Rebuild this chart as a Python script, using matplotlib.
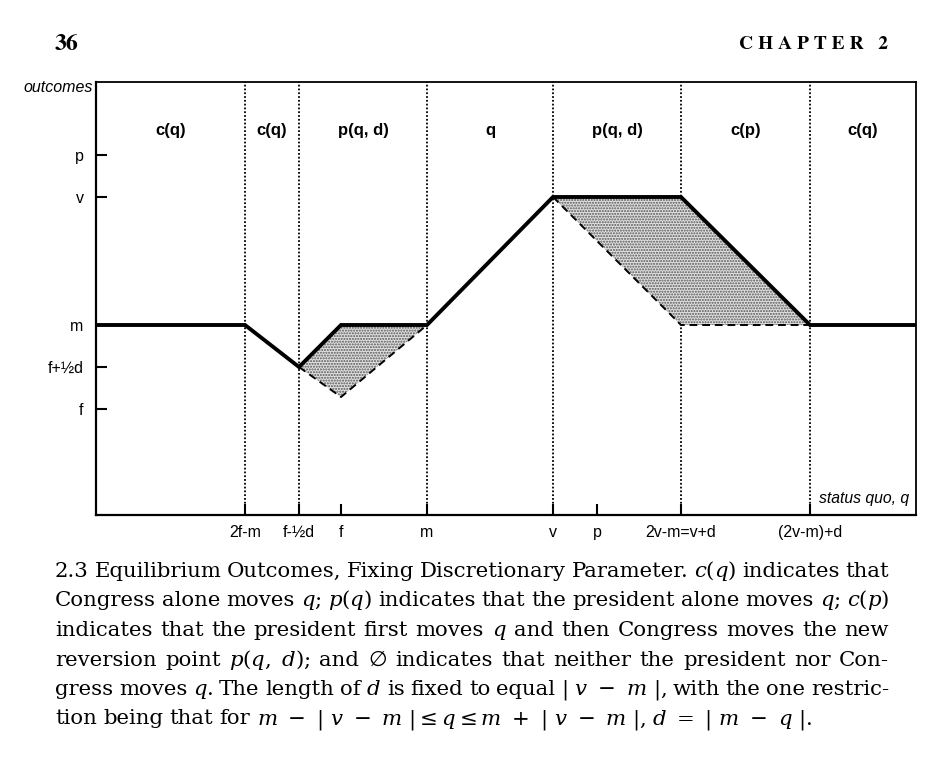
"""Equilibrium outcomes figure (fixed discretionary parameter) with its book-page caption."""

import re

import matplotlib
matplotlib.use("Agg")
import matplotlib.pyplot as plt

plt.rcParams["font.family"] = ["Liberation Sans", "DejaVu Sans"]
plt.rcParams["mathtext.fontset"] = "dejavuserif"
plt.rcParams["hatch.linewidth"] = 1.0
plt.rcParams["hatch.color"] = "#555555"

# status quo positions (x) and outcome levels (y), schematic units
X_LABELS = ["2f-m", "f-½d", "f", "m", "v", "p", "2v-m=v+d", "(2v-m)+d"]
X_TICKS = [14.9, 20.3, 24.5, 33.1, 45.7, 50.1, 58.5, 71.4]
X_MAX = 82.0
DIVIDERS = [14.9, 20.3, 33.1, 45.7, 58.5, 71.4]

Y_LABELS = ["p", "v", "m", "f+½d", "f"]
Y_TICKS = [36.0, 31.8, 19.0, 14.8, 10.6]
Y_MAX = 43.3

REGION_LABELS = ["c(q)", "c(q)", "p(q, d)", "q", "p(q, d)", "c(p)", "c(q)"]
REGION_Y = 38.5

# equilibrium outcome as a function of the status quo
OUT_X = [0.0, 14.9, 20.3, 24.5, 33.1, 45.7, 58.5, 71.4, 82.0]
OUT_Y = [19.0, 19.0, 14.8, 19.0, 19.0, 31.8, 31.8, 19.0, 19.0]

# shaded ranges of possible outcomes (solid upper edge, dashed lower edge)
LEFT_UPPER_X = [20.3, 24.5, 33.1]
LEFT_UPPER_Y = [14.8, 19.0, 19.0]
LEFT_LOWER_X = [20.3, 24.5, 33.1]
LEFT_LOWER_Y = [14.8, 11.8, 19.0]

RIGHT_UPPER_X = [45.7, 58.5, 71.4]
RIGHT_UPPER_Y = [31.8, 31.8, 19.0]
RIGHT_LOWER_X = [45.7, 58.5, 71.4]
RIGHT_LOWER_Y = [31.8, 19.0, 19.0]

CAPTION = [
    r"2.3 Equilibrium Outcomes, Fixing Discretionary Parameter. $c(q)$ indicates that",
    r"Congress alone moves $q$; $p(q)$ indicates that the president alone moves $q$; $c(p)$",
    r"indicates that the president first moves $q$ and then Congress moves the new",
    r"reversion point $p(q,\ d)$; and ∅ indicates that neither the president nor Con-",
    r"gress moves $q$. The length of $d$ is fixed to equal $|\ v\ -\ m\ |$, with the one restric-",
    r"tion being that for $m\ -\ |\ v\ -\ m\ |\leq q\leq m\ +\ |\ v\ -\ m\ |$, $d\ =\ |\ m\ -\ q\ |$.",
]
CAPTION_BASELINES = [577, 606.5, 636, 665.5, 695, 724.5]
CAPTION_FAMILY = ["DejaVu Serif", "DejaVu Sans", "STIXGeneral"]

W_PX, H_PX = 935, 761


def draw_caption(fig, lines, x0, x1, baselines, size):
    """Place each word so that every line but the last is justified."""
    renderer = fig.canvas.get_renderer()
    for i, (line, yb) in enumerate(zip(lines, baselines)):
        words = re.findall(r"(?:\$[^$]*\$|\S)+", line)
        texts = [fig.text(0, 1 - yb / H_PX, w, fontsize=size, family=CAPTION_FAMILY,
                          va="baseline", ha="left") for w in words]
        widths = [t.get_window_extent(renderer).width for t in texts]
        if i == len(lines) - 1:
            gap = size * 100 / 72 * 0.3
        else:
            gap = (x1 - x0 - sum(widths)) / (len(words) - 1)
        x = x0
        for t, w in zip(texts, widths):
            t.set_x(x / W_PX)
            x += w + gap


fig = plt.figure(figsize=(W_PX / 100, H_PX / 100), dpi=100)
ax = fig.add_axes([96 / W_PX, 1 - 515 / H_PX, (916 - 96) / W_PX, (515 - 82) / H_PX])
ax.set_xlim(0, X_MAX)
ax.set_ylim(0, Y_MAX)

for x in DIVIDERS:
    ax.axvline(x, color="black", lw=1.3, ls=(0, (1, 1.1)), zorder=1)

for ux, uy, lx, ly in [(LEFT_UPPER_X, LEFT_UPPER_Y, LEFT_LOWER_X, LEFT_LOWER_Y),
                       (RIGHT_UPPER_X, RIGHT_UPPER_Y, RIGHT_LOWER_X, RIGHT_LOWER_Y)]:
    ax.fill(ux + lx[::-1], uy + ly[::-1], facecolor="#e0e0e0", hatch="......",
            edgecolor="#555555", linewidth=0, zorder=2)
    ax.plot(lx, ly, color="black", lw=1.4, ls=(0, (4, 2.5)), zorder=3)

ax.plot(OUT_X, OUT_Y, color="black", lw=2.8, solid_joinstyle="miter", zorder=4)

for x, label in zip([(a + b) / 2 for a, b in zip([0] + DIVIDERS, DIVIDERS + [X_MAX])],
                    REGION_LABELS):
    ax.text(x, REGION_Y, label, ha="center", va="center", fontsize=12, fontweight="bold")

ax.set_xticks(X_TICKS, X_LABELS)
ax.set_yticks(Y_TICKS, Y_LABELS)
ax.tick_params(direction="in", length=8, width=1.5, labelsize=11.5, color="black")
ax.tick_params(axis="x", pad=7)
ax.tick_params(axis="y", pad=9)
for side in ["left", "bottom"]:
    ax.spines[side].set_linewidth(1.6)
for side in ["top", "right"]:
    ax.spines[side].set_linewidth(1.3)

fig.text(93 / W_PX, 1 - 87 / H_PX, "outcomes", ha="right", va="center",
         fontsize=11.5, style="italic")
ax.text(0.992, 0.037, "status quo, q", transform=ax.transAxes, ha="right",
        va="center", fontsize=11.3, style="italic")

# page furniture
fig.text(55 / W_PX, 1 - 50 / H_PX, "36", family="STIXGeneral", fontweight="bold",
         fontsize=17, va="baseline", ha="left")
fig.text(888 / W_PX, 1 - 49 / H_PX, "C H A P T E R   2", family="STIXGeneral",
         fontweight="bold", fontsize=14, va="baseline", ha="right")

draw_caption(fig, CAPTION, 55, 889, CAPTION_BASELINES, 15.3)

fig.savefig("out.png", dpi=100)
